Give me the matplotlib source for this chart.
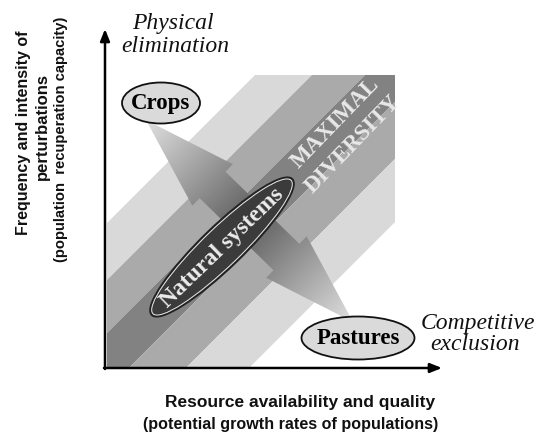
import numpy as np
import matplotlib
matplotlib.use("Agg")
import matplotlib.pyplot as plt
from matplotlib.patches import Polygon, Rectangle, Ellipse

# ---- diagram data (pixel space of a 538x438 canvas) ----
band_bounds = [330, 387, 440, 497, 554, 617]          # x + y boundaries of the diagonal bands
band_colors = ["#d9d9d9", "#aaaaaa", "#828282", "#aaaaaa", "#d9d9d9"]
band_box = [107, 75, 395, 367]                          # clip box: x0, y0, x1, y1

arrow_tip_crops = (146, 120)
arrow_tip_pastures = (353, 322)
arrow_head_len = 93
arrow_head_w = 58
arrow_shaft_w = 37

ellipse_labels = ["Crops", "Pastures", "Natural systems"]
ellipse_centers = [(161, 103), (358, 338), (222, 247)]
ellipse_sizes = [(78, 41), (113, 43), (194, 40)]

ylabel_lines = ["Frequency and intensity of", "perturbations",
                "(population  recuperation capacity)"]
ylabel_pos = [(24, 133), (42, 127), (61, 139)]
ylabel_sizes = [11.5, 12, 10.6]
xlabel_lines = ["Resource availability and quality",
                "(potential growth rates of populations)"]
xlabel_pos = [(300, 403), (291, 425)]
xlabel_sizes = [12.5, 11.6]

W, H = 538, 438
fig = plt.figure(figsize=(W / 100, H / 100), dpi=100)
ax = fig.add_axes([0, 0, 1, 1])
ax.set_xlim(0, W)
ax.set_ylim(H, 0)
ax.axis("off")

# ---- diagonal bands ----
x0, y0, x1, y1 = band_box
clip = Rectangle((x0, y0), x1 - x0, y1 - y0, transform=ax.transData,
                 facecolor="none", edgecolor="none")
ax.add_patch(clip)
for d1, d2, c in zip(band_bounds[:-1], band_bounds[1:], band_colors):
    poly = Polygon([(d1 + 1000, -1000), (d2 + 1000, -1000),
                    (d2 - 1000, 1000), (d1 - 1000, 1000)],
                   closed=True, facecolor=c, edgecolor="none", zorder=1)
    ax.add_patch(poly)
    poly.set_clip_path(clip)

# ---- double-headed gradient arrow ----
t1 = np.array(arrow_tip_crops, float)
t2 = np.array(arrow_tip_pastures, float)
u = (t2 - t1) / np.linalg.norm(t2 - t1)
n = np.array([-u[1], u[0]])
L = np.linalg.norm(t2 - t1)
C = (t1 + t2) / 2

def P(s, w):
    p = C + u * s + n * w
    return (p[0], p[1])

half = L / 2
hb = half - arrow_head_len
pts = [P(-half, 0), P(-hb, arrow_head_w / 2), P(-hb, arrow_shaft_w / 2),
       P(hb, arrow_shaft_w / 2), P(hb, arrow_head_w / 2), P(half, 0),
       P(hb, -arrow_head_w / 2), P(hb, -arrow_shaft_w / 2),
       P(-hb, -arrow_shaft_w / 2), P(-hb, -arrow_head_w / 2)]
arrow_poly = Polygon(pts, closed=True, facecolor="none", edgecolor="none",
                     transform=ax.transData)
ax.add_patch(arrow_poly)
gx, gy = np.meshgrid(np.arange(W) + 0.5, np.arange(H) + 0.5)
s = (gx - C[0]) * u[0] + (gy - C[1]) * u[1]
shade = 0.36 + 0.52 * np.clip(np.abs(s) / half, 0, 1)
im = ax.imshow(shade, cmap="gray", vmin=0, vmax=1, extent=(0, W, H, 0),
               origin="upper", zorder=2, interpolation="bilinear")
im.set_clip_path(arrow_poly)
ax.set_xlim(0, W)
ax.set_ylim(H, 0)

# ---- ellipses ----
serif = "Liberation Serif"
for lab, cen, (ew, eh) in zip(ellipse_labels, ellipse_centers, ellipse_sizes):
    if lab == "Natural systems":
        ax.add_patch(Ellipse(cen, ew, eh, angle=-44, facecolor="#3b3b3b",
                             edgecolor="#222222", lw=2.4, zorder=3))
        ax.add_patch(Ellipse(cen, ew - 2, eh - 2, angle=-44, facecolor="none",
                             edgecolor="#e0e0e0", lw=0.8, zorder=3))
        ax.text(cen[0], cen[1] + 1, lab, rotation=44, rotation_mode="anchor",
                ha="center", va="center", fontsize=17, fontweight="bold",
                family=serif, color="#ececec", zorder=4)
    else:
        ax.add_patch(Ellipse(cen, ew, eh, facecolor="#dadada",
                             edgecolor="#111111", lw=1.3, zorder=3))
        ax.text(cen[0], cen[1] + 1, lab, ha="center", va="center",
                fontsize=16.5, fontweight="bold", family=serif,
                color="black", zorder=4)

# ---- MAXIMAL DIVERSITY ----
ax.text(335, 123, "MAXIMAL", rotation=46, rotation_mode="anchor",
        ha="center", va="center", fontsize=16.5, fontweight="bold",
        family=serif, color="#e8e8e8", zorder=4)
ax.text(353, 144, "DIVERSITY", rotation=46, rotation_mode="anchor",
        ha="center", va="center", fontsize=16.5, fontweight="bold",
        family=serif, color="#e8e8e8", zorder=4)

# ---- axes arrows ----
ax.annotate("", xy=(105, 29), xytext=(105, 369),
            arrowprops=dict(arrowstyle="-|>,head_length=0.7,head_width=0.28",
                            lw=1.8, color="black", shrinkA=0, shrinkB=0),
            zorder=5)
ax.annotate("", xy=(442, 368), xytext=(104, 368),
            arrowprops=dict(arrowstyle="-|>,head_length=0.7,head_width=0.28",
                            lw=1.8, color="black", shrinkA=0, shrinkB=0),
            zorder=5)

# ---- italic annotations ----
ax.text(173, 24, "Physical", ha="center", va="center", fontsize=17,
        style="italic", family=serif, color="#111111")
ax.text(175, 46, "elimination", ha="center", va="center", fontsize=17,
        style="italic", family=serif, color="#111111")
ax.text(478, 323, "Competitive", ha="center", va="center", fontsize=17,
        style="italic", family=serif, color="#111111")
ax.text(475, 345, "exclusion", ha="center", va="center", fontsize=17,
        style="italic", family=serif, color="#111111")

# ---- axis titles ----
sans = "Liberation Sans"
for txt, (px, py), fs in zip(ylabel_lines, ylabel_pos, ylabel_sizes):
    ax.text(px, py, txt, rotation=90, ha="center", va="center",
            fontsize=fs, fontweight="bold", family=sans, color="#111111")
for txt, (px, py), fs in zip(xlabel_lines, xlabel_pos, xlabel_sizes):
    ax.text(px, py, txt, ha="center", va="center",
            fontsize=fs, fontweight="bold", family=sans, color="#111111")

fig.savefig("out.png", dpi=100)
